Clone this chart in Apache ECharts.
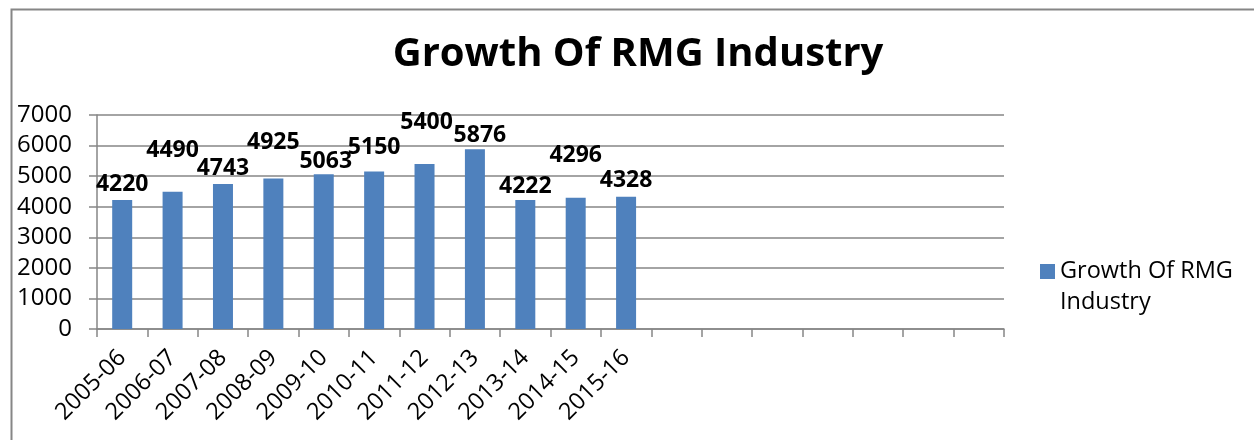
<!DOCTYPE html>
<html>
<head>
<meta charset="utf-8">
<script src="https://cdn.jsdelivr.net/npm/echarts@6/dist/echarts.min.js"></script>
<style>
  html, body { margin: 0; padding: 0; background: #fff; }
  #chart { width: 1254px; height: 440px; }
</style>
</head>
<body>
<div id="chart"></div>
<script>
// chart data
const seriesName = 'Growth Of RMG Industry'
const periods = ['2005-06', '2006-07', '2007-08', '2008-09', '2009-10', '2010-11',
  '2011-12', '2012-13', '2013-14', '2014-15', '2015-16', '', '', '', '', '', '', '']
const growth = [4220, 4490, 4743, 4925, 5063, 5150, 5400, 5876, 4222, 4296, 4328]
const yTicks = [0, 1000, 2000, 3000, 4000, 5000, 6000, 7000]

// labels were dragged around by hand in the original, keep that look
const labelShift = [[0, 0], [0, -26], [0, 0], [0, -20], [2, 3], [0, -9],
  [2, -26], [5, 2], [0, 2], [0, -27], [0, -1]]

const font = '"Open Sans", "DejaVu Sans", sans-serif'
const grey = '#868686'

const chart = echarts.init(document.getElementById('chart'))
chart.setOption({
  animation: false,
  textStyle: { fontFamily: font },
  graphic: [{
    type: 'rect',
    left: 9,
    top: 7,
    shape: { width: 1300, height: 500 },
    style: { fill: 'none', stroke: grey, lineWidth: 2 },
    silent: true,
  }],
  title: {
    text: seriesName,
    left: 633,
    textAlign: 'center',
    top: 30,
    textStyle: { fontFamily: font, fontWeight: 'bold', fontSize: 40, color: '#000' },
  },
  legend: {
    left: 1035,
    top: 220,
    orient: 'vertical',
    icon: 'rect',
    itemWidth: 15,
    itemHeight: 15,
    // empty first line keeps the marker level with the first text line
    formatter: (name) => '\n' + name.replace(' Industry', '\nIndustry'),
    textStyle: {
      fontFamily: font,
      fontSize: 23.5,
      color: '#000',
      lineHeight: 31,
    },
    data: [seriesName],
  },
  grid: { left: 97, right: 250, top: 115, bottom: 111, containLabel: false },
  xAxis: {
    type: 'category',
    data: periods,
    boundaryGap: true,
    axisLine: { lineStyle: { color: grey, width: 1.5 } },
    axisTick: { show: true, length: 8, interval: 0, lineStyle: { color: grey, width: 1.5 } },
    axisLabel: {
      interval: 0,
      rotate: 45,
      margin: 25,
      fontFamily: font,
      fontSize: 23.5,
      color: '#000',
    },
  },
  yAxis: {
    type: 'value',
    min: yTicks[0],
    max: yTicks[yTicks.length - 1],
    interval: yTicks[1] - yTicks[0],
    axisLine: { show: true, lineStyle: { color: grey, width: 1.5 } },
    axisTick: { show: true, length: 8, lineStyle: { color: grey, width: 1.5 } },
    axisLabel: {
      margin: 25,
      fontFamily: font,
      fontSize: 24,
      color: '#000',
      formatter: (v) => String(v),
    },
    splitLine: { lineStyle: { color: grey, width: 1.5 } },
  },
  series: [{
    name: seriesName,
    type: 'bar',
    barWidth: 20,
    itemStyle: { color: '#4F81BD' },
    label: {
      show: true,
      position: 'top',
      distance: 4,
      fontFamily: font,
      fontWeight: 'bold',
      fontSize: 23,
      color: '#000',
    },
    data: growth.map((v, i) => ({ value: v, label: { offset: labelShift[i] } })),
  }],
})
</script>
</body>
</html>
